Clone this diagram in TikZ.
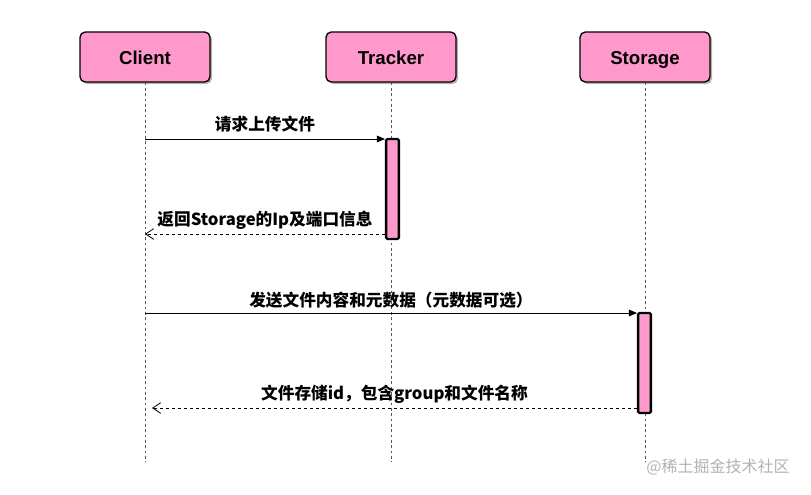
\documentclass[tikz,border=0pt]{standalone}
\usepackage{fontspec}
\setmainfont{Noto Sans CJK SC}
\newfontfamily\latinbf{Liberation Sans}
\usetikzlibrary{arrows.meta,shadows}
\tikzset{
    actor/.style={draw,line width=1pt,rounded corners=4pt,fill=pinkfill,minimum width=97.5pt,minimum height=37.5pt,text height=12pt,text depth=1pt,font=\latinbf\bfseries\fontsize{14}{16}\selectfont,drop shadow={shadow xshift=1.5pt,shadow yshift=-1.5pt,fill=black!50,opacity=.6}},
    lifeline/.style={dashed,gray!70!black,dash pattern=on 2pt off 2pt,line width=0.6pt},
    bar/.style={draw,line width=1.8pt,rounded corners=1pt,fill=pinkfill},
    msg/.style={-{Triangle[length=6pt,width=5pt]},line width=0.6pt},
    reply/.style={-{Straight Barb[length=6pt,width=8pt]},dashed,dash pattern=on 2.5pt off 2pt,line width=0.6pt},
    lbl/.style={font=\bfseries\fontsize{12.5}{14}\selectfont,inner sep=1pt}
}
\definecolor{pinkfill}{HTML}{FF99CC}
\begin{document}
\begin{tikzpicture}[x=0.75pt,y=-0.75pt]
\useasboundingbox (0,0) rectangle (811,494);
\node[actor] (client) at (145,57) {Client};
\node[actor] (tracker) at (391,57) {Tracker};
\node[actor] (storage) at (645,57) {Storage};
% lifelines
\coordinate (cend) at (145,462);
\coordinate (tend) at (391,462);
\coordinate (send) at (645,462);
\draw[lifeline] (client) -- (cend);
\draw[lifeline] (tracker) -- (tend);
\draw[lifeline] (storage) -- (send);
% activations
\node[bar,minimum width=9.5pt,minimum height=75pt,inner sep=0pt] (tbar) at (392.5,189) {};
\node[bar,minimum width=9.5pt,minimum height=75pt,inner sep=0pt] (sbar) at (644.5,363) {};
% messages
\coordinate (c1) at (145,139);
\coordinate (c2) at (145,234);
\coordinate (c3) at (145,313);
\coordinate (c4) at (152,408);
\draw[msg] (c1) -- (c1 -| tbar.west) node[lbl,midway,above=4pt] {请求上传文件};
\draw[reply] (c2 -| tbar.west) -- (c2) node[lbl,midway,above=2pt] {返回Storage的Ip及端口信息};
\draw[msg] (c3) -- (c3 -| sbar.west) node[lbl,midway,above=2pt] {发送文件内容和元数据（元数据可选）};
\draw[reply] (c4 -| sbar.west) -- (c4) node[lbl,midway,above=2pt] {文件存储id，包含group和文件名称};
\node[font=\fontsize{12}{14}\selectfont,text=gray!60] (mark) at (718,467) {@稀土掘金技术社区};
\end{tikzpicture}
\end{document}
